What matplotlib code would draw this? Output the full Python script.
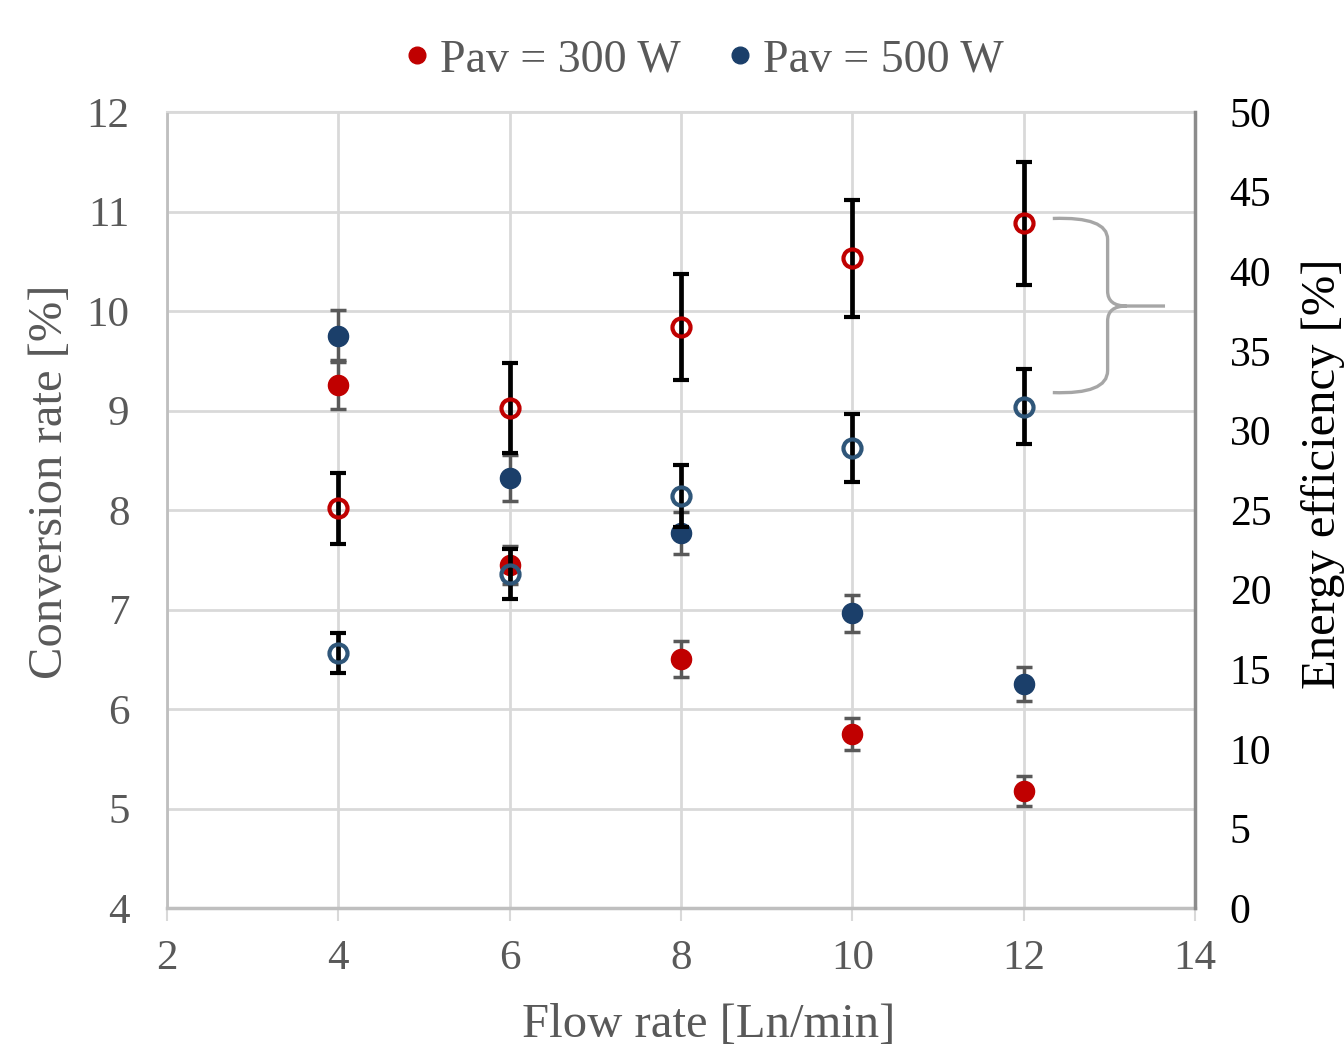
import matplotlib
matplotlib.use("Agg")
import matplotlib.pyplot as plt
from matplotlib.path import Path
from matplotlib.patches import PathPatch
from matplotlib.lines import Line2D

plt.rcParams['font.family'] = ['Liberation Serif', 'DejaVu Serif']

# ---- data ----
flow = [4, 6, 8, 10, 12]
conv_300 = [9.26, 7.45, 6.50, 5.75, 5.18]
conv_300_err = [0.245, 0.19, 0.18, 0.16, 0.15]
conv_500 = [9.75, 8.32, 7.77, 6.96, 6.25]
conv_500_err = [0.26, 0.23, 0.21, 0.19, 0.17]
eff_300 = [25.1, 31.4, 36.5, 40.8, 43.0]
eff_300_err = [2.23, 2.83, 3.33, 3.67, 3.86]
eff_500 = [16.0, 21.0, 25.9, 28.9, 31.5]
eff_500_err = [1.26, 1.57, 1.95, 2.14, 2.37]
series_labels = ['Pav = 300 W', 'Pav = 500 W']
x_ticks = [2, 4, 6, 8, 10, 12, 14]
left_ticks = [4, 5, 6, 7, 8, 9, 10, 11, 12]
right_ticks = [0, 5, 10, 15, 20, 25, 30, 35, 40, 45, 50]

RED = '#C00000'
BLUE = '#1B3F6A'
BLUE_OPEN = '#2F5679'
GREY_TXT = '#595959'

fig = plt.figure(figsize=(13.44, 10.53), dpi=100)
ax = fig.add_axes([167/1344, 1-908/1053, (1195-167)/1344, (908-112)/1053])
ax2 = ax.twinx()

ax.set_xlim(2, 14)
ax.set_ylim(4, 12)
ax2.set_ylim(0, 50)
ax.set_xticks(x_ticks)
ax.set_yticks(left_ticks)
ax2.set_yticks(right_ticks)

ax.grid(True, color='#D9D9D9', lw=2.0)
ax.set_axisbelow(True)

ax.spines['top'].set_color('#D9D9D9'); ax.spines['top'].set_linewidth(1.5)
ax2.spines['top'].set_visible(False)
ax.spines['left'].set_color('#BFBFBF'); ax.spines['left'].set_linewidth(2.0)
ax.spines['bottom'].set_color('#BFBFBF'); ax.spines['bottom'].set_linewidth(2.5)
ax.spines['right'].set_visible(False)
ax2.spines['left'].set_visible(False)
ax2.spines['bottom'].set_visible(False)
ax2.spines['right'].set_color('#8C8C8C'); ax2.spines['right'].set_linewidth(2.5)

ax.tick_params(axis='x', length=9, width=1.5, color='#D9D9D9', direction='out',
               labelsize=31, labelcolor=GREY_TXT, pad=14)
ax.tick_params(axis='y', length=0, labelsize=31, labelcolor=GREY_TXT, pad=27)
ax2.tick_params(axis='y', length=0, labelsize=30, labelcolor='black', pad=25)

# filled markers: conversion rate (left axis)
ax.errorbar(flow, conv_300, yerr=conv_300_err, fmt='o', color=RED, ms=14.5,
            ecolor=GREY_TXT, elinewidth=2.5, capsize=5.5, capthick=2.5, zorder=3)
ax.errorbar(flow, conv_500, yerr=conv_500_err, fmt='o', color=BLUE, ms=14.5,
            ecolor=GREY_TXT, elinewidth=2.5, capsize=5.5, capthick=2.5, zorder=3)

# open markers: energy efficiency (right axis)
ax2.errorbar(flow, eff_300, yerr=eff_300_err, fmt='o', mfc='none', mec=RED, mew=3.0,
             ms=13, ecolor='black', elinewidth=3.4, capsize=6, capthick=3.4, zorder=3)
ax2.errorbar(flow, eff_500, yerr=eff_500_err, fmt='o', mfc='none', mec=BLUE_OPEN, mew=3.0,
             ms=13, ecolor='black', elinewidth=3.4, capsize=6, capthick=3.4, zorder=3)

# brace
verts = [(12.34, 10.93), (12.98, 10.95), (12.98, 10.72), (12.98, 10.20),
         (12.98, 10.05), (13.20, 10.05), (13.65, 10.05),
         (13.20, 10.05), (12.98, 10.05), (12.98, 9.90), (12.98, 9.40),
         (12.98, 9.16), (12.34, 9.18)]
codes = [Path.MOVETO, Path.CURVE3, Path.CURVE3, Path.LINETO,
         Path.CURVE3, Path.CURVE3, Path.LINETO,
         Path.MOVETO, Path.CURVE3, Path.CURVE3, Path.LINETO,
         Path.CURVE3, Path.CURVE3]
ax2.add_patch(PathPatch(Path(verts, codes), transform=ax.transData, fill=False,
                        edgecolor='#A6A6A6', lw=2.4, clip_on=False, zorder=4))

# labels
fig.text(50/1344, 1-482/1053, 'Conversion rate [%]', rotation=90, ha='center',
         va='center', fontsize=35, color=GREY_TXT)
fig.text(1323/1344, 1-474/1053, 'Energy efficiency [%]', rotation=90, ha='center',
         va='center', fontsize=35, color='black')
fig.text(709/1344, 1-1025/1053, 'Flow rate [Ln/min]', ha='center', va='center',
         fontsize=35, color=GREY_TXT)

handles = [Line2D([], [], ls='none', marker='o', color=RED, ms=12),
           Line2D([], [], ls='none', marker='o', color=BLUE, ms=12)]
fig.legend(handles, series_labels, loc='center', bbox_to_anchor=(699/1344, 1-60/1053),
           ncol=2, frameon=False, fontsize=33, labelcolor=GREY_TXT,
           handletextpad=0.0, columnspacing=0.8, handlelength=1.0)

fig.savefig('out.png', dpi=100)
